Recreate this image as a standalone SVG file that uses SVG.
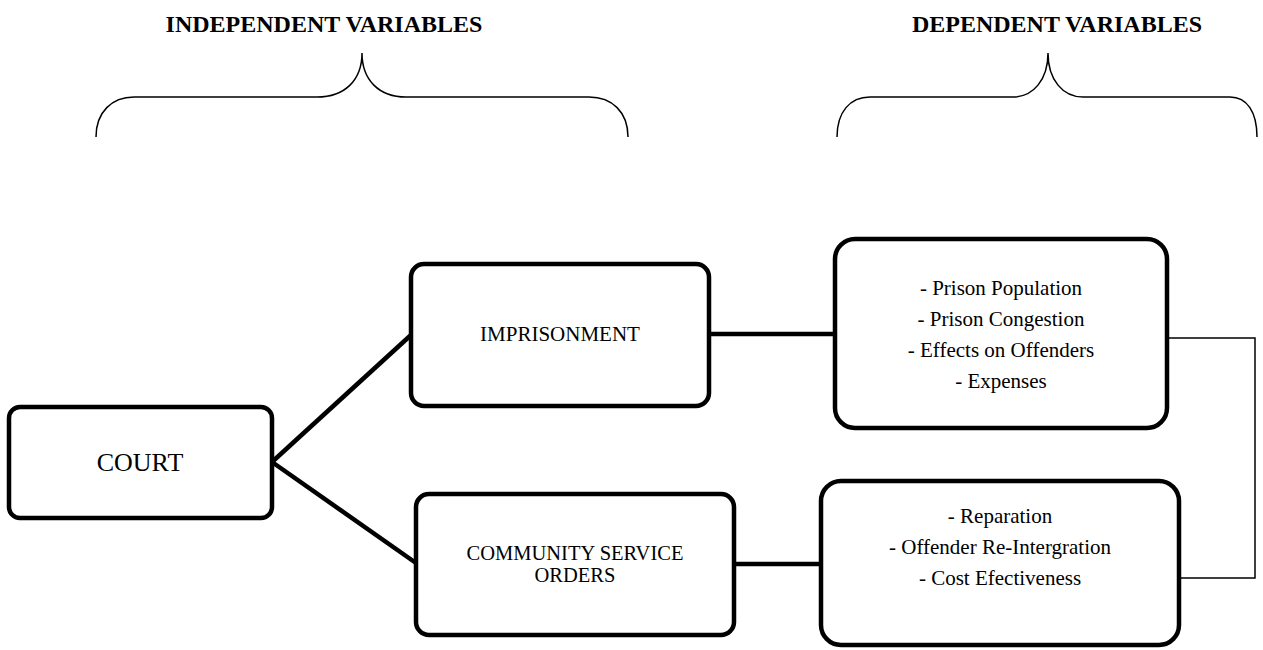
<svg xmlns="http://www.w3.org/2000/svg" width="1263" height="650" viewBox="0 0 1263 650">
<style>
  .box { fill: #fff; stroke: #000; stroke-width: 4.5; }
  .conn { fill: none; stroke: #000; stroke-width: 4.5; }
  .thin { fill: none; stroke: #000; stroke-width: 1.5; }
  .brace { fill: none; stroke: #000; stroke-width: 1.5; }
  text { font-family: "Liberation Serif", "Times New Roman", serif; fill: #000; text-anchor: middle; }
  .title { font-size: 24px; font-weight: bold; }
  .lbl { font-size: 21px; }
  .lbl2 { font-size: 20.5px; }
  .big { font-size: 26px; }
</style>
<rect width="1263" height="650" fill="#fff"/>
<g id="headers">
  <text class="title" x="324" y="32">INDEPENDENT VARIABLES</text>
  <text class="title" x="1057" y="32">DEPENDENT VARIABLES</text>
  <path class="brace" d="M96,137 C96,112 112,97 134,97 L317,97 C345,97 362,80 362,53 C362,80 379,97 406,97 L589,97 C612,97 628,112 628,137"/>
  <path class="brace" d="M837,137 C837,112 850,97 870,97 L1013,97 C1033,97 1048,80 1048,53 C1048,80 1063,97 1083,97 L1230,97 C1247,97 1257,112 1257,137"/>
</g>
<g id="connectors">
  <line class="conn" x1="272" y1="462" x2="411" y2="335"/>
  <line class="conn" x1="272" y1="462" x2="416" y2="563"/>
  <line class="conn" x1="709" y1="334" x2="835" y2="334"/>
  <line class="conn" x1="734" y1="564" x2="821" y2="564"/>
  <path class="thin" d="M1167,338 H1255 V578 H1179"/>
</g>
<g id="court">
  <rect class="box" x="9" y="407" width="263" height="111" rx="11"/>
  <text class="big" x="140" y="471">COURT</text>
</g>
<g id="imprisonment">
  <rect class="box" x="411" y="264" width="298" height="142" rx="13"/>
  <text class="lbl" x="560" y="341">IMPRISONMENT</text>
</g>
<g id="community-service-orders">
  <rect class="box" x="416" y="494" width="318" height="141" rx="13"/>
  <text class="lbl2" x="575" y="560">COMMUNITY SERVICE</text>
  <text class="lbl2" x="575" y="582">ORDERS</text>
</g>
<g id="prison-effects">
  <rect class="box" x="835" y="239" width="332" height="189" rx="20"/>
  <text class="lbl" x="1001" y="295">- Prison Population</text>
  <text class="lbl" x="1001" y="326">- Prison Congestion</text>
  <text class="lbl" x="1001" y="357">- Effects on Offenders</text>
  <text class="lbl" x="1001" y="388">- Expenses</text>
</g>
<g id="cso-effects">
  <rect class="box" x="821" y="481" width="358" height="164" rx="20"/>
  <text class="lbl" x="1000" y="523">- Reparation</text>
  <text class="lbl" x="1000" y="554">- Offender Re-Intergration</text>
  <text class="lbl" x="1000" y="585">- Cost Efectiveness</text>
</g>
</svg>
